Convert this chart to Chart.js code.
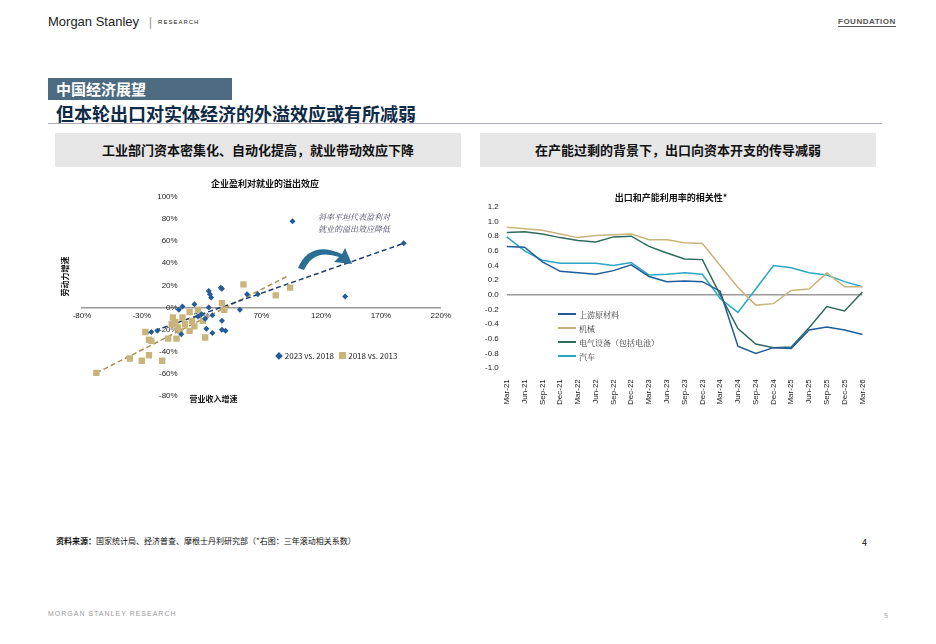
<!DOCTYPE html>
<html><head><meta charset="utf-8">
<script src="https://cdn.jsdelivr.net/npm/chart.js@4"></script>
<style>
body{margin:0;width:936px;height:644px;background:#fff;font-family:"Noto Sans CJK SC","Noto Sans",sans-serif;position:relative;overflow:hidden}
.abs{position:absolute}
</style></head><body>
<div class="abs" style="left:48px;top:14px;font-size:13px;color:#222;font-family:'Liberation Sans'">Morgan Stanley <span style="color:#999;margin:0 6px">|</span><span style="font-size:6px;letter-spacing:1px;vertical-align:2px">RESEARCH</span></div>
<div class="abs" style="left:838px;top:17px;font-size:8px;font-weight:bold;color:#555;letter-spacing:0.5px;border-bottom:1px solid #555;font-family:'Liberation Sans'">FOUNDATION</div>
<div class="abs" style="left:48px;top:78px;width:184px;height:22px;background:#4d6b80;color:#fff;font-size:15px;font-weight:bold;line-height:22px;padding-left:8px;box-sizing:border-box">中国经济展望</div>
<div class="abs" style="left:56px;top:100px;font-size:18px;font-weight:bold;color:#0e2a47">但本轮出口对实体经济的外溢效应或有所减弱</div>
<div class="abs" style="left:48px;top:123px;width:834px;border-top:1px solid #aab"></div>
<div class="abs" style="left:55px;top:133px;width:406px;height:34px;background:#e6e6e6;font-size:13px;font-weight:bold;line-height:34px;text-align:center;color:#111">工业部门资本密集化、自动化提高，就业带动效应下降</div>
<div class="abs" style="left:480px;top:133px;width:396px;height:34px;background:#e6e6e6;font-size:13px;font-weight:bold;line-height:34px;text-align:center;color:#111">在产能过剩的背景下，出口向资本开支的传导减弱</div>
<div class="abs" style="left:60px;top:178px;width:394px;height:226px"><canvas id="c1"></canvas></div>
<div class="abs" style="left:475px;top:190px;width:400px;height:218px"><canvas id="c2"></canvas></div>
<div class="abs" style="left:318px;top:211px;font-size:8px;font-style:italic;color:#446;font-family:'Noto Serif CJK SC',serif;text-align:center;line-height:12px">斜率平坦代表盈利对<br>就业的溢出效应降低</div>
<svg class="abs" style="left:290px;top:238px" width="70" height="40"><path d="M8 30 Q20 2 52 16 L55 10 L62 26 L44 24 L49 19 Q24 10 14 32 Z" fill="#2a6f93"/></svg>
<div class="abs" style="left:275px;top:350px;font-size:8px;color:#222"><span style="color:#1f5c99">◆</span> 2023 vs. 2018 &nbsp;&nbsp;<span style="display:inline-block;width:7px;height:7px;background:#c9b57b"></span> 2018 vs. 2013</div>
<div class="abs" style="left:558px;top:308px;font-size:8px;color:#333;line-height:14px;font-family:'Noto Serif CJK SC',serif">
<div><span style="display:inline-block;width:18px;border-top:2px solid #1f5c99;vertical-align:3px;margin-right:3px"></span>上游原材料</div>
<div><span style="display:inline-block;width:18px;border-top:2px solid #c9b57b;vertical-align:3px;margin-right:3px"></span>机械</div>
<div><span style="display:inline-block;width:18px;border-top:2px solid #2e6b5e;vertical-align:3px;margin-right:3px"></span>电气设备（包括电池）</div>
<div><span style="display:inline-block;width:18px;border-top:2px solid #2ba6c4;vertical-align:3px;margin-right:3px"></span>汽车</div></div>
<div class="abs" style="left:56px;top:535px;font-size:8px;color:#111"><b>资料来源：</b>国家统计局、经济普查、摩根士丹利研究部（*右图：三年滚动相关系数）</div>
<div class="abs" style="left:862px;top:536px;font-size:9px;color:#111">4</div>
<div class="abs" style="left:48px;top:610px;font-size:7px;color:#999;letter-spacing:1px;font-family:'Liberation Sans'">MORGAN STANLEY RESEARCH</div>
<div class="abs" style="left:884px;top:610px;font-size:7px;color:#999">5</div>
<script>
// 左图：散点
const blueX = [96,189,140,67,58,36,37,26,27,28,14,4,1,26,52,37,29,20,24,29,37,40,-22,-17,3,23,17];
const blueY = [78,58,10,12,12,18,17,15,12,9,3,1,-2,0,-2,-12,-7,-6,-19,-23,-20,-21,-22,-21,-24,-10,-8];
const goldX = [-68,-40,-30,-24,-13,-27,-24,-22,-8,-1,-4,-2,0,10,6,14,21,10,17,23,37,39,55,82,94,-5,4,2,12];
const goldY = [-59,-46,-48,-43,-48,-22,-29,-30,-28,-28,-9,-13,-18,-21,-15,-17,-12,-4,-2,-27,4,-2,21,11,18,-15,-9,-21,-12];
const blueTrend = [[-25,-23],[189,58]];
const goldTrend = [[-68,-59],[93,29]];
// 右图：折线
const quarters = ['Mar-21','Jun-21','Sep-21','Dec-21','Mar-22','Jun-22','Sep-22','Dec-22','Mar-23','Jun-23','Sep-23','Dec-23','Mar-24','Jun-24','Sep-24','Dec-24','Mar-25','Jun-25','Sep-25','Dec-25','Mar-26'];
const upstream = [0.66,0.65,0.45,0.32,0.30,0.28,0.33,0.41,0.25,0.18,0.19,0.18,0.05,-0.70,-0.80,-0.72,-0.73,-0.48,-0.44,-0.48,-0.54];
const machinery = [0.92,0.90,0.88,0.83,0.78,0.81,0.82,0.83,0.75,0.75,0.71,0.70,0.40,0.10,-0.14,-0.12,0.06,0.08,0.30,0.11,0.11];
const electrical = [0.85,0.86,0.83,0.78,0.74,0.72,0.79,0.80,0.66,0.57,0.49,0.48,0.00,-0.46,-0.67,-0.72,-0.71,-0.45,-0.16,-0.22,0.04];
const autos = [0.79,0.60,0.47,0.43,0.43,0.43,0.40,0.44,0.27,0.28,0.30,0.28,-0.05,-0.24,0.08,0.40,0.37,0.30,0.27,0.18,0.11];

const font = {family:'Liberation Sans', size:8};
const pts = (xs, ys) => xs.map((x, i) => ({x, y: ys[i]}));
const line = p => p.map(a => ({x:a[0], y:a[1]}));

new Chart(document.getElementById('c1'), {
  type: 'scatter',
  data: {datasets: [
    {data: pts(blueX, blueY), pointStyle:'rectRot', pointRadius:3, backgroundColor:'#1f5c99', borderWidth:0},
    {data: pts(goldX, goldY), pointStyle:'rect', pointRadius:4.5, backgroundColor:'#c9b57b', borderWidth:0},
    {type:'line', data: line(blueTrend), borderColor:'#1e3d6b', borderDash:[5,3], borderWidth:1.5, pointRadius:0},
    {type:'line', data: line(goldTrend), borderColor:'#a89050', borderDash:[5,3], borderWidth:1.5, pointRadius:0}
  ]},
  options: {
    animation:false, responsive:true, maintainAspectRatio:false,
    layout:{padding:{left:22,right:6}},
    plugins: {legend:{display:false},
      title:{display:true, text:'企业盈利对就业的溢出效应', font:{family:'Noto Sans CJK SC', size:9, weight:'bold'}, color:'#111', padding:{top:0,bottom:8}}},
    scales: {
      x: {min:-80, max:220, position:{y:0}, ticks:{stepSize:50, font, color:'#222', callback:v=>v+'%'},
          grid:{display:false, drawTicks:false}, border:{color:'#999', width:1.5}},
      y: {min:-80, max:100, position:{x:0}, ticks:{stepSize:20, font, color:'#222', callback:v=>v+'%'},
          grid:{display:false}, border:{display:false}}
    }
  },
  plugins: [{id:'axisTitles', afterDraw(c){
    const ctx=c.ctx; ctx.save(); ctx.fillStyle='#111'; ctx.font='bold 8px "Noto Sans CJK SC"'; ctx.textAlign='center';
    ctx.fillText('营业收入增速', c.scales.x.getPixelForValue(30), c.height-2);
    ctx.translate(8, c.scales.y.getPixelForValue(28)); ctx.rotate(-Math.PI/2); ctx.fillText('劳动力增速',0,0); ctx.restore();
  }}]
});

const ds = (label, data, color) => ({label, data, borderColor:color, borderWidth:1.5, pointRadius:0, tension:0});
new Chart(document.getElementById('c2'), {
  type: 'line',
  data: {labels: quarters, datasets: [
    ds('上游原材料', upstream, '#1f5c99'),
    ds('机械', machinery, '#c9b57b'),
    ds('电气设备（包括电池）', electrical, '#2e6b5e'),
    ds('汽车', autos, '#2ba6c4')
  ]},
  options: {
    animation:false, responsive:true, maintainAspectRatio:false,
    layout:{padding:{left:2,right:10}},
    plugins: {legend:{display:false},
      title:{display:true, text:'出口和产能利用率的相关性*', font:{family:'Noto Sans CJK SC', size:9, weight:'bold'}, color:'#111', padding:{top:2,bottom:4}}},
    scales: {
      x: {offset:false, ticks:{font, color:'#222', maxRotation:90, minRotation:90, autoSkip:false}, grid:{display:false}, border:{display:false}},
      y: {min:-1, max:1.2, ticks:{stepSize:0.2, font, color:'#222', padding:8, callback:v=>v.toFixed(1)},
          grid:{color:c=>Math.abs(c.tick.value)<1e-9?'#999':'transparent', lineWidth:1.5, drawTicks:false}, border:{display:false}}
    }
  }
});
</script>
</body></html>
